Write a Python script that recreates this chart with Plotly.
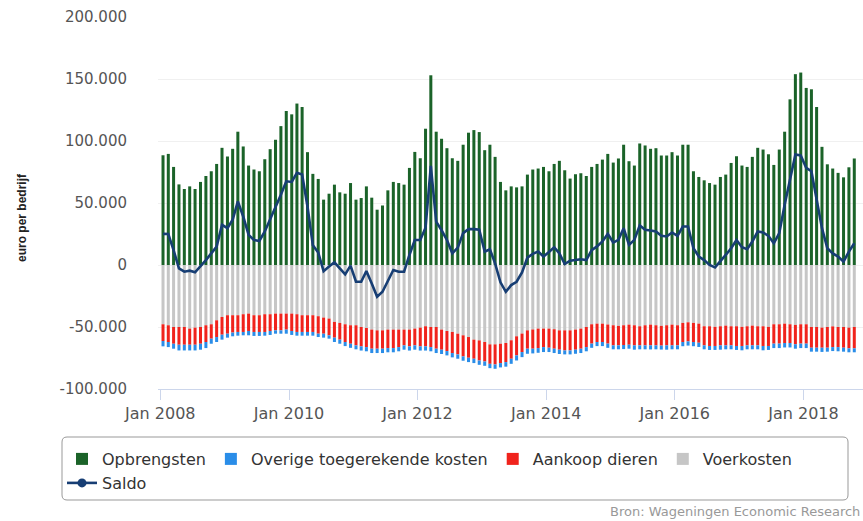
import plotly.graph_objects as go
import pandas as pd

# ---------------- data (euro per bedrijf, monthly Jan 2008 - Oct 2018) ----------------
months = pd.date_range("2008-01-01", periods=130, freq="MS").strftime("%Y-%m-%d").tolist()

opbrengsten = [
    88500, 89600, 79100, 65000, 61300, 63400, 61300, 67000, 71800, 75600, 81500, 94500,
    87500, 93700, 107500, 95600, 80200, 77000, 75600, 85300, 93400, 101000, 112000, 124200,
    121500, 130200, 127400, 91000, 73500, 69400, 52700, 57500, 64800, 58600, 57500, 66100,
    52700, 54000, 63400, 54300, 44600, 48000, 60200, 67000, 66100, 64800, 78300, 91200,
    86100, 109900, 153000, 107500, 101800, 94200, 86100, 84000, 97000, 106700, 108800, 107200,
    92600, 97000, 87200, 67000, 60200, 63400, 62600, 63400, 72900, 77000, 77800, 79100,
    75600, 81500, 84000, 76400, 69700, 73200, 74000, 71800, 79100, 81500, 85000, 89600,
    82600, 85900, 97000, 83700, 80200, 98000, 96400, 93700, 94200, 88300, 88300, 91000,
    88300, 97000, 97000, 75600, 71000, 68300, 66100, 64800, 71000, 72900, 82300, 87700,
    80200, 79100, 87200, 94500, 93100, 89300, 80700, 93100, 107500, 133600, 153900, 155200,
    142800, 141700, 127400, 95300, 81200, 77800, 74300, 70700, 78800, 85900,
]

voerkosten = [
    -47800, -48600, -50000, -50000, -50000, -51300, -50500, -50000, -48600, -47800, -44600, -41900,
    -40500, -40500, -40500, -39700, -39200, -40500, -40500, -39700, -39700, -39200, -39200, -39200,
    -39200, -39700, -40500, -40500, -40500, -41300, -42400, -43200, -45900, -46700, -47800, -48600,
    -48600, -50000, -50800, -52100, -52700, -52700, -52100, -52100, -52100, -52100, -52100, -51300,
    -50500, -49400, -50000, -50000, -52100, -53200, -54000, -55400, -56700, -58100, -60200, -60800,
    -62100, -64000, -64000, -63500, -62900, -60700, -57500, -55300, -52700, -52000, -51300, -51300,
    -51300, -51800, -52700, -52700, -52700, -52100, -51300, -50000, -47800, -47300, -47300, -48000,
    -48600, -49100, -48600, -48100, -48600, -49400, -48600, -48100, -48600, -49100, -48600, -48100,
    -48600, -46700, -46200, -46700, -47300, -49400, -49400, -49900, -49400, -48900, -49400, -49400,
    -49900, -49400, -48900, -49400, -49400, -49900, -47800, -47800, -47300, -47800, -48300, -47800,
    -47800, -50000, -50000, -50500, -50000, -49500, -50000, -50000, -50500, -50000,
]

aankoop_dieren = [
    -13500, -13500, -13500, -14300, -14300, -13000, -13800, -13500, -13500, -11600, -13500, -14300,
    -14900, -14000, -13500, -14300, -14000, -13500, -13500, -14300, -13500, -13500, -13500, -12900,
    -14000, -14300, -13500, -13500, -13500, -14100, -13000, -13500, -12700, -13500, -14300, -14900,
    -16200, -15600, -15400, -15400, -14800, -14800, -14900, -14900, -14100, -12700, -13500, -13500,
    -15100, -16200, -16200, -17500, -16200, -16200, -17000, -16700, -17000, -16700, -15400, -16200,
    -15700, -15700, -16200, -15600, -15400, -14900, -15400, -14900, -14800, -15500, -15700, -14900,
    -15400, -15700, -15600, -16200, -16200, -16200, -16200, -16200, -15600, -14800, -14800, -15400,
    -16200, -15700, -15900, -16200, -16200, -15400, -16200, -16700, -16200, -15900, -16200, -16700,
    -16200, -15400, -15400, -15400, -15400, -15400, -15900, -15400, -15400, -15900, -15400, -15900,
    -15400, -15400, -15900, -15400, -15900, -15400, -15600, -15600, -15600, -15100, -15600, -15600,
    -15600, -16700, -16700, -16200, -16700, -16700, -16200, -16700, -16700, -17200,
]

overige_kosten = [
    -4300, -4100, -4000, -4600, -4600, -4600, -4600, -4800, -4900, -4100, -4000, -4000,
    -3200, -3000, -3000, -2700, -3500, -3200, -3200, -3000, -3200, -2700, -2700, -3300,
    -3200, -3000, -3000, -3000, -3000, -2700, -3200, -2700, -3500, -3300, -3300, -3300,
    -3200, -3400, -3400, -3500, -3500, -3500, -3400, -3400, -3400, -3500, -3400, -3500,
    -3400, -3400, -3400, -3500, -3500, -3500, -3500, -3500, -3500, -3500, -3500, -3500,
    -3500, -3500, -3500, -3500, -3700, -4100, -4100, -4100, -4100, -3800, -3800, -4000,
    -3500, -3500, -3500, -3200, -3200, -3300, -3500, -3400, -3400, -3300, -3300, -3400,
    -3200, -3200, -3300, -3200, -3500, -3200, -3200, -3300, -3200, -3200, -3500, -3200,
    -3200, -3400, -3400, -3400, -3400, -3200, -3200, -3200, -3500, -3200, -3200, -3200,
    -3500, -3200, -3200, -3200, -3500, -3200, -3600, -3600, -3600, -3600, -3600, -3600,
    -3600, -3200, -3200, -3400, -3200, -3200, -3400, -3200, -3200, -3200,
]

saldo = [
    25100, 25000, 12000, -2700, -5400, -4600, -5900, -1300, 4000, 9400, 14800, 32400,
    29700, 36500, 51300, 39100, 24300, 20200, 19400, 27000, 36500, 47200, 56700, 67500,
    67000, 74300, 72900, 47200, 16000, 10000, -5000, -1300, 2200, -2700, -7600, -500,
    -13500, -13500, -4900, -14900, -25600, -21600, -12200, -4000, -5400, -5400, 8100, 20200,
    20200, 30000, 80000, 35000, 28000, 20200, 9400, 14000, 25700, 28900, 28900, 28400,
    10800, 12700, 1300, -14000, -21600, -16200, -13500, -6000, 6000, 9000, 10800, 6800,
    10500, 14300, 9400, 800, 3500, 4000, 4600, 4000, 12000, 15000, 19000, 25100,
    18100, 20300, 29700, 16200, 20300, 31900, 28400, 27800, 27000, 23500, 23000, 26200,
    23500, 31000, 31000, 13500, 6800, 4000, 0, -1900, 2700, 8100, 13500, 20200,
    14300, 12700, 18900, 27000, 26200, 23500, 17500, 25700, 48600, 70200, 89100, 88300,
    78300, 75600, 52700, 29700, 13500, 9400, 6800, 2700, 10800, 17500,
]

y_tickvals = [-100000, -50000, 0, 50000, 100000, 150000, 200000]
y_ticktext = ["-100.000", "-50.000", "0", "50.000", "100.000", "150.000", "200.000"]
x_tickvals = ["2008-01-01", "2010-01-01", "2012-01-01", "2014-01-01", "2016-01-01", "2018-01-01"]
x_ticktext = ["Jan 2008", "Jan 2010", "Jan 2012", "Jan 2014", "Jan 2016", "Jan 2018"]

# ---------------- layout geometry ----------------
W, H = 863, 521
L, R, T, B = 158, 0, 17, 132
PW, PH = W - L - R, H - T - B


def px_x(p):
    return (p - L) / PW


def px_y(p):
    return (H - B - p) / PH


def rounded_box(x0, y0, x1, y1, r):
    """SVG path (paper coords) of a rounded rectangle given in pixels."""
    X0, X1, Y0, Y1 = px_x(x0), px_x(x1), px_y(y0), px_y(y1)
    rx, ry = r / PW, r / PH
    return (f"M {X0 + rx},{Y0} L {X1 - rx},{Y0} Q {X1},{Y0} {X1},{Y0 - ry} "
            f"L {X1},{Y1 + ry} Q {X1},{Y1} {X1 - rx},{Y1} L {X0 + rx},{Y1} "
            f"Q {X0},{Y1} {X0},{Y1 + ry} L {X0},{Y0 - ry} Q {X0},{Y0} {X0 + rx},{Y0} Z")


FONT = "DejaVu Sans, Verdana, sans-serif"
C_GREEN = "#1b6329"
C_BLUE = "#2a8de8"
C_RED = "#f0231c"
C_GREY = "#c6c6c6"
C_NAVY = "#173e74"

fig = go.Figure()
bar_common = dict(x=months, xperiod="M1", xperiodalignment="middle", marker_line_width=0)
fig.add_trace(go.Bar(y=opbrengsten, name="Opbrengsten", marker_color=C_GREEN,
                     legendrank=1, legend="legend", **bar_common))
fig.add_trace(go.Bar(y=voerkosten, name="Voerkosten", marker_color=C_GREY,
                     legendrank=4, legend="legend", **bar_common))
fig.add_trace(go.Bar(y=aankoop_dieren, name="Aankoop dieren", marker_color=C_RED,
                     legendrank=3, legend="legend", **bar_common))
fig.add_trace(go.Bar(y=overige_kosten, name="Overige toegerekende kosten", marker_color=C_BLUE,
                     legendrank=2, legend="legend", **bar_common))
fig.add_trace(go.Scatter(x=months, y=saldo, xperiod="M1", xperiodalignment="middle",
                         mode="lines", line=dict(color=C_NAVY, width=2.6),
                         name="Saldo", showlegend=False))
# legend entry for Saldo (line with marker, as in the original legend)
fig.add_trace(go.Scatter(x=[None], y=[None], mode="lines+markers", name="Saldo",
                         line=dict(color=C_NAVY, width=2.6),
                         marker=dict(color=C_NAVY, size=9, symbol="circle"),
                         legend="legend2"))

fig.update_layout(
    width=W, height=H,
    margin=dict(l=L, r=R, t=T, b=B, pad=0),
    paper_bgcolor="white", plot_bgcolor="white",
    barmode="relative", bargap=0.42,
    font=dict(family=FONT, color="#333333"),
    legend=dict(orientation="h", x=px_x(62), y=px_y(442), xanchor="left", yanchor="top",
                font=dict(size=16, color="#333333", family=FONT), bgcolor="rgba(0,0,0,0)",
                traceorder="normal", itemclick=False),
    legend2=dict(orientation="h", x=px_x(62), y=px_y(466), xanchor="left", yanchor="top",
                 font=dict(size=16, color="#333333", family=FONT), bgcolor="rgba(0,0,0,0)"),
    xaxis=dict(type="date", range=["2007-12-19", "2018-12-05"],
               tickvals=x_tickvals, ticktext=x_ticktext,
               showgrid=False, zeroline=False,
               showline=True, linecolor="#ccd6eb", linewidth=1,
               ticks="outside", ticklen=10, tickcolor="#ccd6eb",
               tickfont=dict(size=16, color="#555555", family=FONT)),
    yaxis=dict(range=[-100000, 200000], tickvals=y_tickvals, ticktext=y_ticktext,
               showgrid=True, gridcolor="#f0f0f0", gridwidth=1, zeroline=False,
               showline=False, ticks="outside", ticklen=27, tickcolor="rgba(0,0,0,0)",
               tickfont=dict(size=15, color="#555555", family=FONT)),
    shapes=[dict(type="path", xref="paper", yref="paper",
                 path=rounded_box(62, 437, 848, 500, 5),
                 line=dict(color="#999999", width=1), fillcolor="rgba(0,0,0,0)")],
    annotations=[
        dict(text="<b>euro per bedrijf</b>", xref="paper", yref="paper",
             x=px_x(22), y=px_y(218), textangle=-90, showarrow=False,
             font=dict(size=12, color="#222222", family="Liberation Sans, Arial, sans-serif"),
             xanchor="center", yanchor="middle"),
        dict(text="Bron: Wageningen Economic Research", xref="paper", yref="paper",
             x=px_x(862), y=px_y(511), showarrow=False, xanchor="right", yanchor="middle",
             font=dict(size=13, color="#999999", family=FONT)),
    ],
)

fig.write_html("out.html", config={"displayModeBar": False},
               post_script="document.body.style.margin='0';")
